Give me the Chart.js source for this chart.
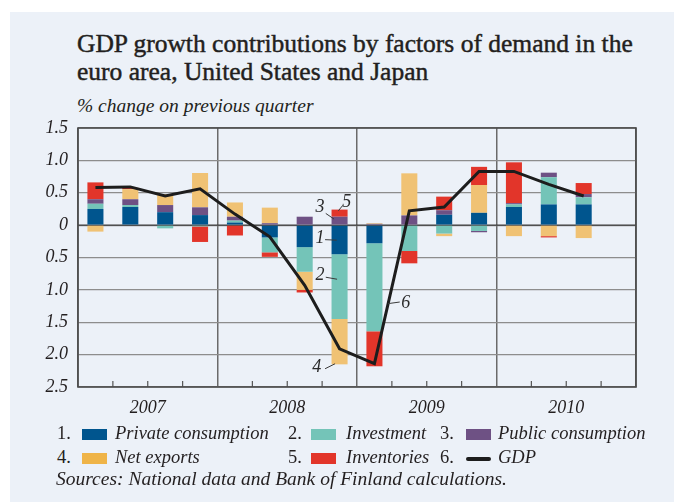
<!DOCTYPE html>
<html>
<head>
<meta charset="utf-8">
<script src="https://cdn.jsdelivr.net/npm/chart.js@4.4.1/dist/chart.umd.min.js"></script>
<style>
  html, body { margin:0; padding:0; background:#ffffff; }
  body { width:674px; height:502px; position:relative; overflow:hidden; font-family:"Liberation Serif", serif; color:#231f20; }
  #panel { position:absolute; left:10px; top:12px; width:664px; height:490px; background:#ECF1F8; }
  #title { position:absolute; left:77px; top:30px; font-size:25.5px; line-height:28px; font-weight:normal; -webkit-text-stroke:0.45px #231f20; white-space:nowrap; }
  #subtitle { position:absolute; left:77px; top:95px; font-size:19.5px; line-height:22px; font-style:italic; white-space:nowrap; }
  #wrap { position:absolute; left:0; top:0; width:674px; height:430px; }
  .lg { position:absolute; font-size:18.5px; font-style:italic; line-height:20px; white-space:nowrap; }
  .sw { position:absolute; width:25px; height:11px; }
  #source { position:absolute; left:56px; top:469px; font-size:19.5px; font-style:italic; line-height:20px; white-space:nowrap; }
</style>
</head>
<body>
<div id="panel"></div>
<div id="title">GDP growth contributions by factors of demand in the<br>euro area, United States and Japan</div>
<div id="subtitle">% change on previous quarter</div>
<div id="wrap"><canvas id="c"></canvas></div>
<div id="legend"></div>
<div id="source">Sources: National data and Bank of Finland calculations.</div>
<script>
// ---- data ----
const quarters = ['2007Q1','2007Q2','2007Q3','2007Q4','2008Q1','2008Q2','2008Q3','2008Q4','2009Q1','2009Q2','2009Q3','2009Q4','2010Q1','2010Q2','2010Q3','2010Q4'];
const years = ['2007','2008','2009','2010'];
const yTicks = [1.5, 1.0, 0.5, 0, -0.5, -1.0, -1.5, -2.0, -2.5];
const privateConsumption = [0.25, 0.28, 0.20, 0.155, 0.04, -0.19, -0.34, -0.45, -0.28, -0.01, 0.16, 0.19, 0.28, 0.32, 0.32, null];
const investment         = [0.08, 0.03, -0.05, -0.02, 0.03, -0.23, -0.38, -1.00, -1.36, -0.39, -0.13, -0.09, 0.04, 0.42, 0.11, null];
const publicConsumption  = [0.07, 0.09, 0.11, 0.12, 0.06, 0.03, 0.13, 0.13, 0.02, 0.15, 0.07, -0.02, 0.02, 0.07, 0.05, null];
const netExports         = [-0.10, 0.155, 0.17, 0.53, 0.22, 0.24, -0.28, -0.70, 0.01, 0.65, -0.04, 0.43, -0.17, -0.17, -0.20, null];
const inventories        = [0.26, 0.02, 0, -0.24, -0.16, -0.07, -0.04, 0.11, -0.54, -0.19, 0.21, 0.28, 0.63, -0.02, 0.17, null];
const gdp                = [0.58, 0.59, 0.45, 0.56, 0.17, -0.18, -0.93, -1.91, -2.14, 0.22, 0.28, 0.83, 0.83, 0.63, 0.45, null];
const seriesNames = ['Private consumption','Investment','Public consumption','Net exports','Inventories','GDP'];

// ---- styles ----
const barColors = ['#00558E', '#74C4B8', '#6E5184', '#F0C274', '#E2352A'];
const legendColors = ['#00558E', '#74C4B8', '#6E5184', '#EFB448', '#E2352A'];
const lineColor = '#1d1d1d';
const serif = '"Liberation Serif", serif';

const barSeries = [privateConsumption, investment, publicConsumption, netExports, inventories];
const datasets = barSeries.map((d, i) => ({
  type: 'bar', label: seriesNames[i], data: d, backgroundColor: barColors[i],
  borderWidth: 0, barPercentage: 0.46, categoryPercentage: 1.0, order: 1, stack: 'contrib'
}));
datasets.push({
  type: 'line', label: seriesNames[5], data: gdp, borderColor: lineColor, borderWidth: 3,
  pointRadius: 0, tension: 0, fill: false, order: 0, stack: 'gdp', spanGaps: false,
  borderJoinStyle: 'miter'
});

// annotation labels anchored to data positions (offsets in px)
const annotations = [
  {text:'3', index:7, value:0.13,  tx:-19.5, ty:-9.6, l:[-13.8,-3.3,-5.5,2.4]},
  {text:'5', index:7, value:0.24,  tx:7.2,   ty:-7.8, l:[3.2,-4.2,-1.2,1.2]},
  {text:'1', index:7, value:-0.22, tx:-19.5, ty:-1,   l:[-14.5,0.3,-2.8,0.8]},
  {text:'2', index:7, value:-0.8,  tx:-19.5, ty:-1.5, l:[-13.8,0.3,-2.5,2.3]},
  {text:'4', index:7, value:-2.15, tx:-22.8, ty:2.8,  l:[-14.5,4.4,-4.5,-0.6]},
  {text:'6', index:8, value:-1.2,  tx:31.3,  ty:0.8,  l:[13.6,0.8,25.3,-0.8]}
];

const framePlugin = {
  id: 'frame',
  beforeDatasetsDraw(chart) {
    const {ctx, chartArea: a, scales} = chart;
    const xs = scales.x;
    ctx.save();
    ctx.strokeStyle = '#555';
    ctx.lineWidth = 1.2;
    for (let i = 1; i < quarters.length; i++) {
      if (i % 4 === 0) continue;
      const px = (xs.getPixelForValue(i - 1) + xs.getPixelForValue(i)) / 2;
      ctx.beginPath();
      ctx.moveTo(px, a.bottom);
      ctx.lineTo(px, a.bottom - 6);
      ctx.stroke();
    }
    const y0 = scales.y.getPixelForValue(0);
    ctx.strokeStyle = '#3c3c3c';
    ctx.lineWidth = 1.3;
    ctx.beginPath(); ctx.moveTo(a.left, y0); ctx.lineTo(a.right, y0); ctx.stroke();
    ctx.strokeStyle = '#4a4a4a';
    ctx.lineWidth = 1.6;
    ctx.strokeRect(a.left, a.top, a.right - a.left, a.bottom - a.top);
    ctx.restore();
  },
  afterDatasetsDraw(chart) {
    const {ctx, scales} = chart;
    ctx.save();
    ctx.fillStyle = '#2a2a2a';
    ctx.strokeStyle = '#3a3a3a';
    ctx.lineWidth = 1;
    ctx.font = 'italic 18px ' + serif;
    ctx.textAlign = 'center';
    ctx.textBaseline = 'middle';
    annotations.forEach(an => {
      const ax = scales.x.getPixelForValue(an.index);
      const ay = scales.y.getPixelForValue(an.value);
      ctx.beginPath();
      ctx.moveTo(ax + an.l[0], ay + an.l[1]);
      ctx.lineTo(ax + an.l[2], ay + an.l[3]);
      ctx.stroke();
      ctx.fillText(an.text, ax + an.tx, ay + an.ty);
    });
    ctx.restore();
  }
};

const chart = new Chart(document.getElementById('c'), {
  data: { labels: quarters, datasets },
  options: {
    responsive: true, maintainAspectRatio: false, animation: false,
    layout: { padding: { top: 128, right: 38, left: 0, bottom: 0 } },
    plugins: { legend: { display: false }, tooltip: { enabled: false } },
    scales: {
      x: {
        type: 'category', stacked: true, offset: true,
        grid: { display: false, offset: true, drawTicks: false },
        border: { display: false },
        ticks: { display: false },
        afterFit(s) { s.height = 0; }
      },
      xYear: {
        type: 'category', labels: years, position: 'bottom', offset: true,
        grid: { display: true, offset: true, drawTicks: false, color: '#6a6a6a', lineWidth: 1.5 },
        border: { display: false },
        ticks: { color: '#231f20', font: { family: serif, size: 18, style: 'italic' }, padding: 10, maxRotation: 0 },
        afterFit(s) { s.height = 43; }
      },
      y: {
        type: 'linear', stacked: true, min: -2.5, max: 1.5,
        afterBuildTicks(s) { s.ticks = yTicks.map(v => ({ value: v })); },
        grid: { color: '#8d8d8d', lineWidth: 1.2, drawTicks: false },
        border: { display: false },
        ticks: {
          color: '#231f20', padding: 10,
          font: { family: serif, size: 18, style: 'italic' },
          callback: v => v === 0 ? '0' : Math.abs(v).toFixed(1)
        },
        afterFit(s) { s.width = 78; }
      }
    }
  },
  plugins: [framePlugin]
});

// ---- HTML legend ----
const legendItems = [
  {n:'1.', idx:0, nx:57, sx:82, tx:115, row:0},
  {n:'2.', idx:1, nx:288, sx:311, tx:346, row:0},
  {n:'3.', idx:2, nx:440, sx:466, tx:498, row:0},
  {n:'4.', idx:3, nx:57, sx:82, tx:115, row:1},
  {n:'5.', idx:4, nx:288, sx:311, tx:346, row:1},
  {n:'6.', idx:5, nx:440, sx:466, tx:498, row:1}
];
const rowTop = [423, 447];
const lg = document.getElementById('legend');
legendItems.forEach(it => {
  const top = rowTop[it.row];
  const num = document.createElement('span');
  num.className = 'lg'; num.style.left = it.nx + 'px'; num.style.top = top + 'px'; num.style.fontStyle = 'normal';
  num.textContent = it.n; lg.appendChild(num);
  const sw = document.createElement('span');
  sw.className = 'sw'; sw.style.left = it.sx + 'px';
  if (it.idx < 5) { sw.style.top = (top + 6) + 'px'; sw.style.background = legendColors[it.idx]; }
  else { sw.style.top = (top + 10) + 'px'; sw.style.height = '4px'; sw.style.borderRadius = '2px'; sw.style.background = lineColor; }
  lg.appendChild(sw);
  const t = document.createElement('span');
  t.className = 'lg'; t.style.left = it.tx + 'px'; t.style.top = top + 'px';
  t.textContent = seriesNames[it.idx]; lg.appendChild(t);
});
</script>
</body>
</html>
